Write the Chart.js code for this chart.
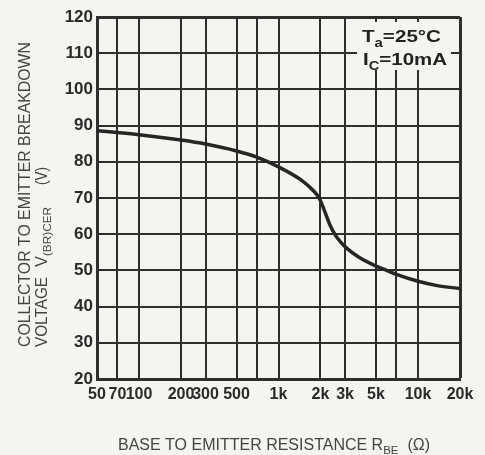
<!DOCTYPE html>
<html>
<head>
<meta charset="utf-8">
<script src="https://cdn.jsdelivr.net/npm/chart.js@4.4.1/dist/chart.umd.min.js"></script>
<style>
  html, body { margin: 0; padding: 0; background: #f4f4f1; }
  #wrap { width: 485px; height: 455px; }
</style>
</head>
<body>
<div id="wrap"><canvas id="breakdownChart" width="485" height="455"></canvas></div>
<script>
// R_BE (ohm) vs V(BR)CER (V)
var resistance = [50, 70, 100, 200, 300, 500, 700, 1000, 1450, 1780, 1950, 2120, 2330, 2570, 2780, 3050, 3750, 5000, 5900, 7000, 10000, 13750, 20000];
var breakdownVoltage = [88.6, 88.1, 87.5, 86.0, 84.9, 83.0, 81.3, 78.6, 75.0, 72.0, 70.1, 66.8, 62.7, 59.6, 57.9, 56.3, 53.7, 51.2, 50.1, 48.9, 47.0, 45.8, 45.0];

// grid lines on the log axis and their labels ('' = line only)
var gridValues = [50, 70, 100, 200, 300, 500, 700, 1000, 2000, 3000, 5000, 7000, 10000, 20000];
var tickLabels = ['50', '70', '100', '200', '300', '500', '', '1k', '2k', '3k', '5k', '', '10k', '20k'];
var voltageTicks = [20, 30, 40, 50, 60, 70, 80, 90, 100, 110, 120];

var ink = '#2e2e2e';
var sans = '"Liberation Sans", Arial, sans-serif';

// text pieces in a row (some subscript), squeezed/stretched to a given width
function drawRuns(ctx, x, y, runs, size, width, bold) {
    var w = 0;
    function font(r) {
        return (bold ? 'bold ' : '') + (r.sub ? size * 0.72 : size) + 'px ' + sans;
    }
    runs.forEach(function(r) { ctx.font = font(r); w += ctx.measureText(r.t).width; });
    ctx.save();
    ctx.translate(x, y);
    ctx.scale(width ? width / w : 1, 1);
    var cx = 0;
    runs.forEach(function(r) {
        ctx.font = font(r);
        ctx.fillText(r.t, cx, r.sub ? size * 0.28 : 0);
        cx += ctx.measureText(r.t).width;
    });
    ctx.restore();
}

var textPlugin = {
    id: 'textPlugin',
    afterDraw: function(chart) {
        var ctx = chart.ctx;
        ctx.save();
        ctx.textBaseline = 'alphabetic';

        // condition box, top right
        ctx.fillStyle = '#f4f4f1';
        ctx.fillRect(357, 22, 94, 48);
        ctx.fillStyle = '#222';
        drawRuns(ctx, 362, 42, [{t: 'T'}, {t: 'a', sub: true}, {t: '=25°C'}], 17, 79, true);
        drawRuns(ctx, 363, 65, [{t: 'I'}, {t: 'C', sub: true}, {t: '=10mA'}], 17, 84, true);

        // x axis title
        ctx.fillStyle = '#444';
        drawRuns(ctx, 118, 450, [{t: 'BASE TO EMITTER RESISTANCE R'}, {t: 'BE', sub: true}, {t: '  (Ω)'}], 16, 312);

        // y axis title, two rotated lines (screen y = -u)
        ctx.rotate(-Math.PI / 2);
        drawRuns(ctx, -347, 30, [{t: 'COLLECTOR TO EMITTER BREAKDOWN'}], 16, 305);
        drawRuns(ctx, -347, 47, [{t: 'VOLTAGE'}], 16, 70);
        drawRuns(ctx, -267, 47, [{t: 'V'}, {t: '(BR)CER', sub: true}], 16, 60);
        drawRuns(ctx, -185, 47, [{t: '(V)'}], 16, 18);

        ctx.restore();
    }
};

var ctx = document.getElementById('breakdownChart');
var chart = new Chart(ctx, {
    type: 'line',
    data: {
        datasets: [{
            data: resistance.map(function(r, i) { return {x: r, y: breakdownVoltage[i]}; }),
            borderColor: '#262626',
            borderWidth: 3.5,
            pointRadius: 0,
            cubicInterpolationMode: 'monotone',
            fill: false
        }]
    },
    options: {
        responsive: false,
        animation: false,
        layout: {
            padding: { left: 0, right: 25, top: 17, bottom: 0 }
        },
        plugins: {
            legend: { display: false },
            tooltip: { enabled: false }
        },
        scales: {
            x: {
                type: 'logarithmic',
                min: 50,
                max: 20000,
                afterBuildTicks: function(scale) {
                    scale.ticks = gridValues.map(function(v) { return {value: v}; });
                },
                afterFit: function(scale) { scale.height = 76; },
                ticks: {
                    autoSkip: false,
                    maxRotation: 0,
                    padding: 6,
                    color: '#2a2a2a',
                    font: { family: sans, size: 16, weight: 'bold' },
                    callback: function(value, index) { return tickLabels[index]; }
                },
                grid: {
                    color: ink,
                    lineWidth: function(c) { return c.index === gridValues.length - 1 ? 3 : 2; },
                    drawTicks: false
                },
                border: { color: ink, width: 3 }
            },
            y: {
                min: 20,
                max: 120,
                afterBuildTicks: function(scale) {
                    scale.ticks = voltageTicks.map(function(v) { return {value: v}; });
                },
                afterFit: function(scale) { scale.width = 97; },
                ticks: {
                    padding: 4,
                    color: '#2a2a2a',
                    font: { family: sans, size: 17, weight: 'bold' }
                },
                grid: {
                    color: ink,
                    lineWidth: function(c) { return c.tick && c.tick.value === 120 ? 3 : 2; },
                    drawTicks: false
                },
                border: { color: ink, width: 3 }
            }
        }
    },
    plugins: [textPlugin]
});
</script>
</body>
</html>
